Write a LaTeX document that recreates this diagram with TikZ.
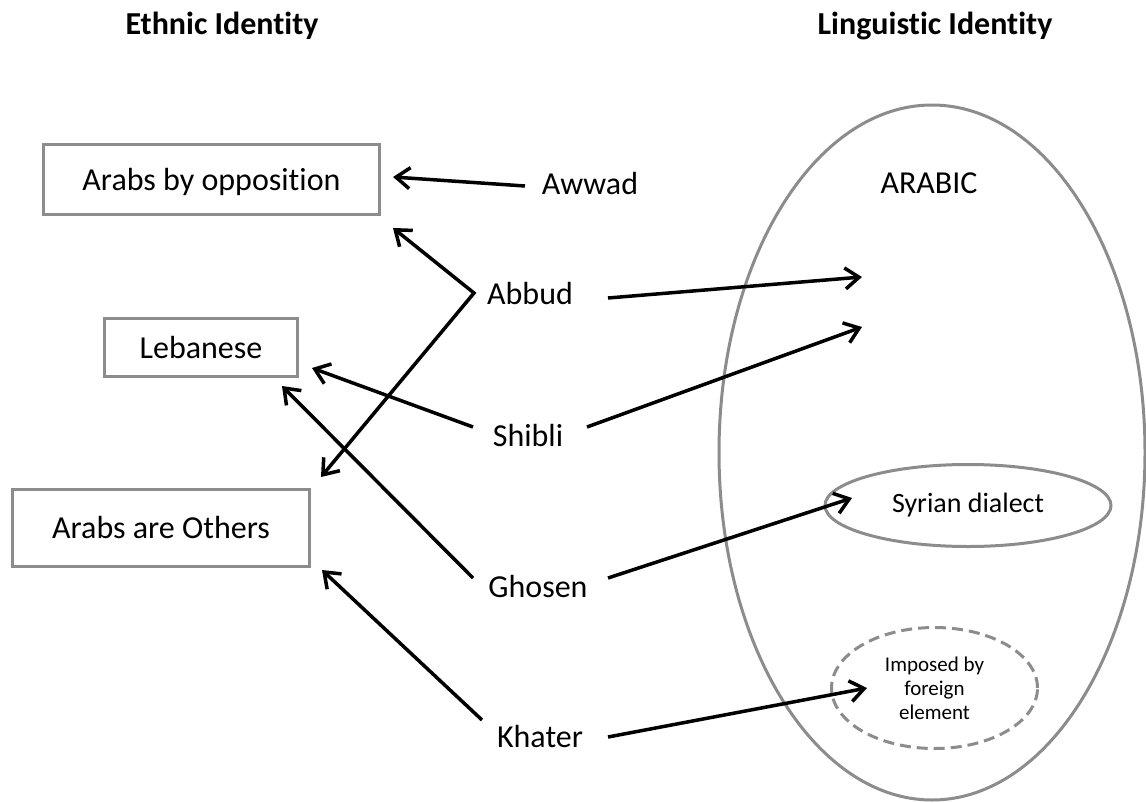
\documentclass[tikz,border=0pt]{standalone}
\usepackage{fontspec}
\setmainfont{Carlito}[Ligatures=NoCommon]
\usetikzlibrary{arrows.meta,shapes.geometric}
\definecolor{edgegray}{RGB}{140,140,140}

\begin{document}
\begin{tikzpicture}[x=1pt,y=-1pt,
  writer/.style={inner sep=0pt, font=\fontsize{32}{38}\selectfont,
    text height=21pt, text depth=0pt},
  heading/.style={inner sep=0pt, font=\bfseries\fontsize{32}{38}\selectfont,
    text height=21pt, text depth=0pt},
  catbox/.style={draw=edgegray, line width=3pt, inner sep=0pt, fill=white,
    font=\fontsize{32}{38}\selectfont, text height=21pt, text depth=0pt},
  lang/.style={ellipse, draw=edgegray, line width=3pt, inner sep=0pt},
  arr/.style={line width=3.5pt, -{Straight Barb[length=14pt,width=21pt]}},
  twoarr/.style={line width=3.5pt, {Straight Barb[length=14pt,width=21pt]}-{Straight Barb[length=14pt,width=21pt]}}
]
\fill[white] (0,0) rectangle (1146,803);
\useasboundingbox (0,0) rectangle (1146,803);

% column headings
\node[heading] (hEthnic) at (222,24) {Ethnic Identity};
\node[heading] (hLing)   at (935,24) {Linguistic Identity};

% ethnic identity categories
\node[catbox, minimum width=336, minimum height=70] (opp) at (211.5,179.5) {Arabs by opposition};
\node[catbox, minimum width=193, minimum height=58] (leb) at (201,347.5) {Lebanese};
\node[catbox, minimum width=297, minimum height=77] (oth) at (161,528) {Arabs are Others};

% linguistic identity
\node[lang, minimum width=426, minimum height=695] (arabic) at (932,452.5) {};
\node[writer] (arabiclbl) at (929,183) {ARABIC};
\node[lang, minimum width=286, minimum height=82,
      font=\fontsize{28}{33}\selectfont] (syr) at (968,505.5) {Syrian dialect};
\node[lang, dashed, dash pattern=on 11pt off 6pt, minimum width=206, minimum height=121,
      align=center, font=\fontsize{21}{24}\selectfont] (imp) at (934.5,688)
      {Imposed by\\foreign\\element};

% writers
\node[writer] (awwad)  at (590,184) {Awwad};
\node[writer] (abbud)  at (530,294) {Abbud};
\node[writer] (shibli) at (528,436) {Shibli};
\node[writer] (ghosen) at (538,587) {Ghosen};
\node[writer] (khater) at (540,737) {Khater};

% links to ethnic identity
\draw[arr] ([shift={(-65,2)}]awwad.center) -- ([shift={(181.5,-2.5)}]opp.center);
\draw[twoarr] ([shift={(181.5,48.5)}]opp.center) -- ([shift={(-56,-1)}]abbud.center)
   -- ([shift={(160,-51)}]oth.center);
\draw[arr] ([shift={(-55,-9)}]shibli.center) -- ([shift={(111,20.5)}]leb.center);
\draw[arr] ([shift={(-65,-9)}]ghosen.center) -- ([shift={(81,38.5)}]leb.center);
\draw[arr] ([shift={(-58,-17)}]khater.center) -- ([shift={(161,42)}]oth.center);

% links to linguistic identity
\draw[arr] ([shift={(78,4)}]abbud.center) -- ([shift={(-70,-175.5)}]arabic.center);
\draw[arr] ([shift={(59,-9)}]shibli.center) -- ([shift={(-70,-125.5)}]arabic.center);
\draw[arr] ([shift={(70,-9)}]ghosen.center) -- ([shift={(-116,-7.5)}]syr.center);
\draw[arr] ([shift={(68,0)}]khater.center) -- ([shift={(-67.5,0)}]imp.center);
\end{tikzpicture}
\end{document}
